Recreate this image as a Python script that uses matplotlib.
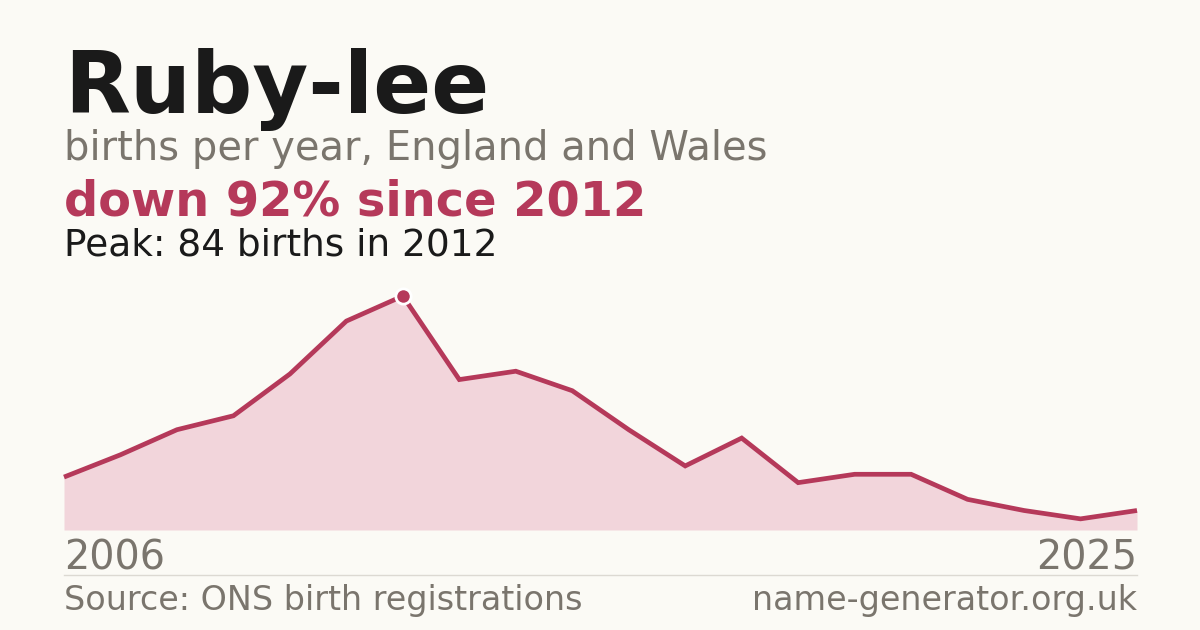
import matplotlib
matplotlib.use("Agg")
import matplotlib.pyplot as plt

years = list(range(2006, 2026))
births = [19, 27, 36, 41, 56, 75, 84, 54, 57, 50, 36, 23, 33, 17, 20, 20, 11, 7, 4, 7]
title = "Ruby-lee"
subtitle = "births per year, England and Wales"
headline = "down 92% since 2012"
peak_text = "Peak: 84 births in 2012"
source = "Source: ONS birth registrations"
site = "name-generator.org.uk"

BG = "#fbfaf5"
RED = "#b5395a"
FILL = "#f2d5db"
GRAY = "#7a756d"
DARK = "#1a1a1a"

W, H = 1200, 630
fig = plt.figure(figsize=(12, 6.3), dpi=100, facecolor=BG)

def fy(px):
    return 1 - px / H

L, R = 64, 1137
top_px, bot_px = 296, 530
ax = fig.add_axes([L / W, fy(bot_px), (R - L) / W, (bot_px - top_px) / H])
ax.set_facecolor(BG)
ax.patch.set_alpha(0)
ax.fill_between(years, births, 0, color=FILL, lw=0, clip_on=False)
ax.plot(years, births, color=RED, lw=3.4, solid_joinstyle="miter", solid_capstyle="butt", clip_on=False)
pk = births.index(max(births))
ax.plot([years[pk]], [births[pk]], "o", ms=11, color=RED, mec="white", mew=2, clip_on=False, zorder=5)
ax.set_xlim(years[0], years[-1])
ax.set_ylim(0, max(births))
ax.axis("off")

fam = "DejaVu Sans"
fig.text(L / W, fy(113), title, fontsize=61.7, fontweight="bold", color=DARK, va="baseline", family=fam)
fig.text(L / W, fy(160), subtitle, fontsize=28.8, color=GRAY, va="baseline", family=fam)
fig.text(L / W, fy(215), headline, fontsize=34.5, fontweight="bold", color=RED, va="baseline", family=fam)
fig.text(L / W, fy(255), peak_text, fontsize=27, color=DARK, va="baseline", family=fam)
fig.text(L / W, fy(570), str(years[0]), fontsize=28.6, color=GRAY, va="baseline", family=fam)
fig.text(R / W, fy(570), str(years[-1]), fontsize=28.6, color=GRAY, va="baseline", ha="right", family=fam)
fig.add_artist(plt.Line2D([L / W, R / W], [fy(574.5), fy(574.5)], color="#dcd9d2", lw=1))
fig.text(L / W, fy(610), source, fontsize=24, color=GRAY, va="baseline", family=fam)
fig.text(R / W, fy(610), site, fontsize=24, color=GRAY, va="baseline", ha="right", family=fam)

fig.savefig("out.png", dpi=100, facecolor=BG)
